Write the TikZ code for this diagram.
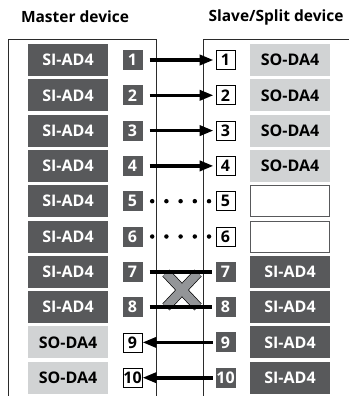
\documentclass[tikz,border=0pt]{standalone}
\usepackage{fontspec}
\setmainfont{Open Sans}
\usetikzlibrary{arrows.meta, positioning, calc}
\definecolor{slate}{HTML}{58595B}
\definecolor{pale}{HTML}{D1D3D4}
\definecolor{edge}{HTML}{2B2B2B}
\definecolor{cross}{HTML}{939598}

\begin{document}
\begin{tikzpicture}[x=1pt, y=-1pt,
      card/.style={minimum width=80pt, minimum height=32pt, inner sep=0pt,
        font=\fontsize{16}{18}\selectfont\bfseries},
      sia/.style={card, fill=slate, text=white},
      soa/.style={card, fill=pale, text=black},
      none/.style={card, draw=slate, line width=0.9pt, minimum width=79pt, minimum height=31pt},
      port/.style={minimum size=20pt, inner sep=0pt, font=\fontsize{16}{16}\selectfont\bfseries},
      pin/.style={port, fill=slate, text=white},
      pout/.style={port, draw=black, fill=white, line width=0.8pt, minimum size=19pt},
      title/.style={font=\fontsize{15.5}{18}\selectfont\bfseries},
      arr/.style={-{Triangle[length=14pt, width=10pt]}, line width=3.6pt},
      wire/.style={line width=3.6pt},
      dots/.style={line width=4.5pt, line cap=round, dash pattern=on 0pt off 14.2pt},
      frame/.style={draw=edge, line width=1pt},
      xmark/.style={draw=black, line width=0.7pt, double=cross, double distance=8.5pt}]
    \useasboundingbox (0,0) rectangle (349,396);
    \node[title] (mt) at (75,17) {Master device};
    \node[title] (st) at (276,17) {Slave/Split device};
    \draw[frame] (8,396) |- (156,40) -- (156,396);
    \draw[frame] (203,396) |- (349,40);
    % rows: master module / master port / slave port / slave module
    \foreach \i/\ma/\ml/\pm/\ps/\sa/\sl in {
        1/sia/SI-AD4/pin/pout/soa/SO-DA4, 2/sia/SI-AD4/pin/pout/soa/SO-DA4,
        3/sia/SI-AD4/pin/pout/soa/SO-DA4, 4/sia/SI-AD4/pin/pout/soa/SO-DA4,
        5/sia/SI-AD4/pin/pout/none/{}, 6/sia/SI-AD4/pin/pout/none/{},
        7/sia/SI-AD4/pin/pin/sia/SI-AD4, 8/sia/SI-AD4/pin/pin/sia/SI-AD4,
        9/soa/SO-DA4/pout/pin/sia/SI-AD4, 10/soa/SO-DA4/pout/pin/sia/SI-AD4} {
      \node[\ma] (ma\i) at (68, {24.7+35.3*\i}) {\ml};
      \node[\pm] (m\i) at (132.5, {24.7+35.3*\i}) {\i};
      \node[\ps] (s\i) at (225.5, {24.7+35.3*\i}) {\i};
      \node[\sa] (sa\i) at (290, {24.7+35.3*\i}) {\sl};
    }
    \foreach \i in {1,...,4}
      \draw[arr, shorten <=7pt, shorten >=2pt] (m\i.east) -- (s\i.west);
    \foreach \i in {5,6}
      \draw[dots, shorten <=9.5pt, shorten >=6pt] (m\i.east) -- (s\i.west);
    \draw[xmark] (166,273) -- (198,307) (198,273) -- (166,307);
    \foreach \i in {7,8}
      \draw[wire, shorten <=7pt, shorten >=3.5pt] (m\i.east) -- (s\i.west);
    \foreach \i in {9,10}
      \draw[arr, shorten <=2.5pt] (s\i.west) -- (m\i.east);
  \end{tikzpicture}
\end{document}
